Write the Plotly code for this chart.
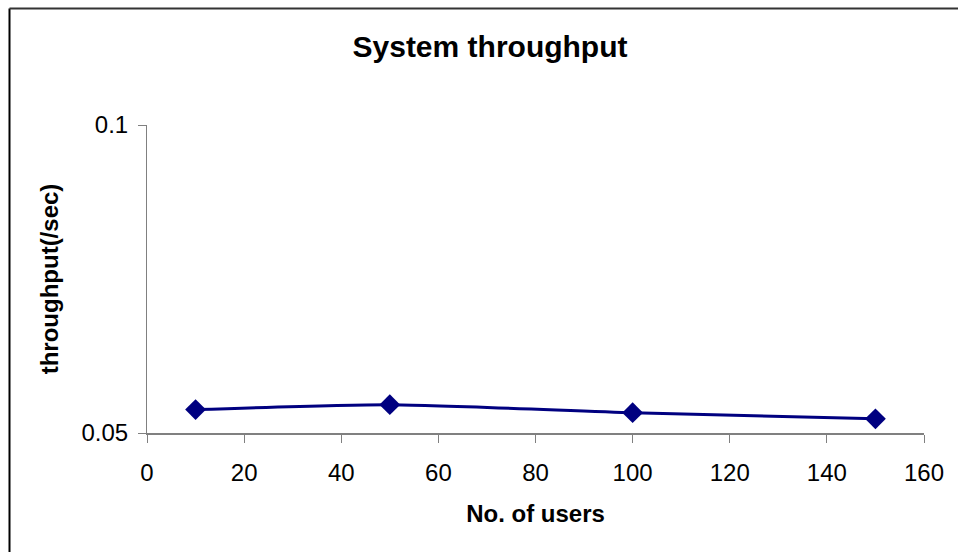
import plotly.graph_objects as go

# Measured system throughput for different user counts
users = [10, 50, 100, 150]
throughput = [0.0538, 0.0546, 0.0533, 0.0523]

x_ticks = [0, 20, 40, 60, 80, 100, 120, 140, 160]
y_ticks = [0.05, 0.1]
y_tick_labels = ["0.05", "0.1"]

FONT = "Liberation Sans, Arial, sans-serif"
NAVY = "#000080"

fig = go.Figure()
fig.add_trace(go.Scatter(
    x=users,
    y=throughput,
    mode="lines+markers",
    line=dict(color=NAVY, width=3, shape="spline", smoothing=0.6),
    marker=dict(symbol="diamond", size=16, color=NAVY),
    showlegend=False,
))

# Outer chart frame (left and top edges)
left_px, right_px, top_px, bottom_px = 147, 924, 125, 433
pw, ph = right_px - left_px, bottom_px - top_px
fx = (9.5 - left_px) / pw
fy = (433 - 8.5) / ph
fig.add_shape(type="line", xref="paper", yref="paper",
              x0=fx, x1=fx, y0=fy, y1=-0.6,
              line=dict(color="#000000", width=2))
fig.add_shape(type="line", xref="paper", yref="paper",
              x0=fx, x1=1.2, y0=fy, y1=fy,
              line=dict(color="#333333", width=2))

fig.update_layout(
    width=958,
    height=552,
    margin=dict(l=left_px, r=958 - right_px, t=top_px, b=552 - bottom_px),
    paper_bgcolor="white",
    plot_bgcolor="white",
    font=dict(family=FONT, color="black", size=24),
    title=dict(
        text="<b>System throughput</b>",
        x=490 / 958, xref="container", xanchor="center",
        y=1 - 46 / 552, yref="container", yanchor="middle",
        font=dict(family=FONT, size=30, color="black"),
    ),
    xaxis=dict(
        range=[0, 160],
        tickvals=x_ticks,
        ticks="outside", ticklen=8, tickcolor="#808080", tickwidth=1,
        showline=True, linecolor="#808080", linewidth=2,
        showgrid=False, zeroline=False,
        ticklabelstandoff=9,
        tickfont=dict(family=FONT, size=24),
        title=dict(text="<b>No. of users</b>", standoff=20,
                   font=dict(family=FONT, size=24)),
    ),
    yaxis=dict(
        range=[0.05, 0.1],
        tickvals=y_ticks,
        ticktext=y_tick_labels,
        ticks="outside", ticklen=8, tickcolor="#808080", tickwidth=1,
        showline=True, linecolor="#808080", linewidth=1,
        showgrid=False, zeroline=False,
        ticklabelstandoff=5,
        tickfont=dict(family=FONT, size=24),
        title=dict(text="<b>throughput(/sec)</b>", standoff=16,
                   font=dict(family=FONT, size=24)),
    ),
)

fig.write_html("out.html")
